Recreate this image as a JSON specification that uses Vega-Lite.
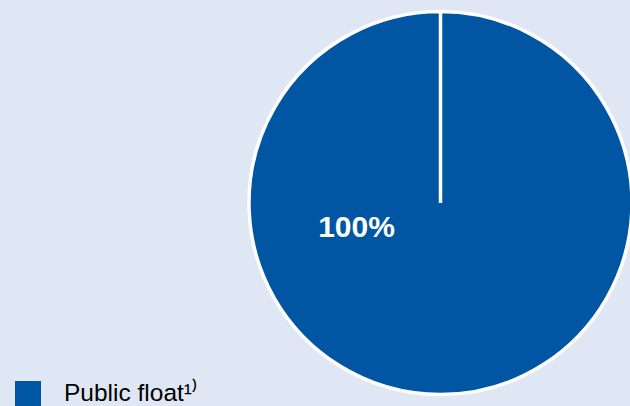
{
  "$schema": "https://vega.github.io/schema/vega-lite/v6.json",
  "autosize": "none",
  "width": 379,
  "height": 406,
  "padding": {"left": 251, "top": 0, "right": 0, "bottom": 0},
  "background": "#dfe7f5",
  "config": {"view": {"stroke": null}, "font": "Liberation Sans"},
  "data": {"values": [{"holder": "Public float¹⁾", "share": 100, "label": "100%"}]},
  "layer": [
    {
      "mark": {"type": "arc", "outerRadius": 191.5, "stroke": "white", "strokeWidth": 3.5, "strokeJoin": "bevel"},
      "encoding": {
        "theta": {"field": "share", "type": "quantitative", "stack": true, "scale": {"range": [0, 6.2831]}},
        "color": {
          "field": "holder",
          "type": "nominal",
          "scale": {"range": ["#0056a2"]},
          "legend": {
            "title": null,
            "orient": "none",
            "legendX": -236,
            "legendY": 381,
            "symbolType": "square",
            "symbolSize": 676,
            "symbolStrokeWidth": 0,
            "symbolOpacity": 1,
            "labelFontSize": 24.5,
            "labelFont": "Liberation Sans",
            "labelColor": "#000000",
            "labelOffset": 23,
            "labelLimit": 400,
            "padding": 0
          }
        }
      }
    },
    {
      "mark": {"type": "text", "fontSize": 30, "fontWeight": "bold", "color": "white", "align": "center", "baseline": "alphabetic", "dx": -84, "dy": 34, "font": "Liberation Sans"},
      "encoding": {"text": {"field": "label", "type": "nominal"}}
    }
  ]
}
